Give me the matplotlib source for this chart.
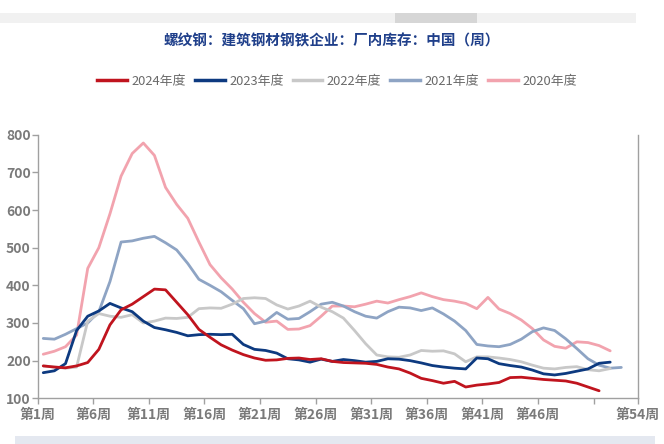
import numpy as np
import matplotlib
matplotlib.use("Agg")
import matplotlib.pyplot as plt
from matplotlib.patches import Rectangle
from matplotlib.lines import Line2D

# ----------------------------
# Data: weekly rebar inventory (10k t)
# ----------------------------
years = ["2024年度", "2023年度", "2022年度", "2021年度", "2020年度"]
colors = ["#c0141e", "#0d3a80", "#c8c8c8", "#8ea4c4", "#f2a3ae"]

y2024 = [186, 183, 181, 186, 195, 230, 295, 335, 350, 370,
         390, 388, 355, 322, 283, 262, 242, 228, 216, 207,
         201, 202, 206, 207, 203, 205, 198, 195, 194, 193,
         190, 183, 178, 167, 153, 147, 140, 145, 130, 135,
         138, 142, 155, 156, 153, 150, 148, 146, 140, 130,
         120]
y2023 = [168, 173, 192, 280, 318, 332, 352, 340, 330, 305,
         288, 282, 275, 266, 269, 270, 269, 270, 243, 230,
         227, 220, 205, 202, 196, 204, 198, 203, 200, 196,
         198, 205, 204, 200, 194, 187, 183, 180, 178, 207,
         205, 192, 187, 183, 175, 165, 162, 166, 172, 178,
         193, 196]
y2022 = [186, 183, 180, 183, 305, 325, 318, 315, 322, 300,
         305, 313, 312, 315, 338, 340, 339, 350, 365, 367,
         365, 348, 337, 345, 358, 342, 330, 313, 280, 245,
         215, 210, 209, 215, 227, 225, 226, 218, 197, 210,
         210, 207, 203, 197, 188, 180, 178, 182, 184, 176,
         173, 179]
y2021 = [259, 257, 270, 285, 300, 330, 410, 515, 518, 525,
         530, 513, 494, 458, 416, 400, 383, 360, 338, 298,
         305, 328, 310, 312, 330, 350, 355, 345, 330, 318,
         313, 330, 342, 340, 333, 340, 324, 305, 280, 243,
         239, 237, 243, 257, 277, 287, 280, 258, 232, 205,
         188, 180, 182]
y2020 = [217, 225, 237, 268, 445, 500, 590, 690, 750, 778,
         745, 660, 615, 578, 515, 455, 420, 390, 355, 325,
         302, 305, 283, 284, 293, 318, 345, 345, 343, 350,
         358, 353, 362, 370, 380, 370, 362, 358, 352, 338,
         368, 337, 325, 308, 285, 255, 238, 233, 250, 248,
         240, 226]
series = [y2024, y2023, y2022, y2021, y2020]

tick_pos = [0, 5, 10, 15, 20, 25, 30, 35, 40, 45, 50, 54]
tick_labels = ["第1周", "第6周", "第11周", "第16周", "第21周", "第26周",
               "第31周", "第36周", "第41周", "第46周", "", "第54周"]

plt.rcParams["font.family"] = ["Noto Sans CJK SC", "DejaVu Sans"]

W, H = 664, 444
fig = plt.figure(figsize=(W / 100, H / 100), dpi=100)
fig.patch.set_facecolor("white")

# cropped UI strip on top and bottom band
fig.patches.append(Rectangle((0, 1 - 23 / H), 636 / W, 10 / H, transform=fig.transFigure,
                             facecolor="#f1f1f1", edgecolor="none"))
fig.patches.append(Rectangle((395 / W, 1 - 23 / H), 82 / W, 10 / H, transform=fig.transFigure,
                             facecolor="#d6d6d6", edgecolor="none"))
fig.patches.append(Rectangle((15 / W, 0), 640 / W, 8 / H, transform=fig.transFigure,
                             facecolor="#e4e8f0", edgecolor="none"))

ax = fig.add_axes([37.7 / W, 1 - 398.3 / H, (638 - 37.7) / W, (398.3 - 134.7) / H])

# draw oldest first so 2024 sits on top
for name, vals, c in reversed(list(zip(years, series, colors))):
    x = np.arange(len(vals)) + 0.5
    ax.plot(x, vals, color=c, lw=2.0, solid_joinstyle="round", solid_capstyle="round")

ax.set_xlim(0, 54)
ax.set_ylim(100, 800)
ax.set_yticks(range(100, 801, 100))
ax.set_xticks(tick_pos)
ax.set_xticklabels(tick_labels)

for s in ["left", "bottom", "right"]:
    ax.spines[s].set_color("#a0a0a0")
    ax.spines[s].set_linewidth(1.0)
ax.spines["top"].set_visible(False)
ax.tick_params(axis="both", colors="#a0a0a0", length=4, width=1.0, labelcolor="#7a7a7a",
               labelsize=10)
for lab in ax.get_xticklabels() + ax.get_yticklabels():
    lab.set_fontweight("bold")
ax.tick_params(axis="y", pad=1)
ax.tick_params(axis="x", pad=3)

fig.text(0.5, 1 - 40 / H, "螺纹钢：建筑钢材钢铁企业：厂内库存：中国（周）",
         ha="center", va="center", color="#1f3f8a", fontsize=10.5, fontweight="bold")

handles = [Line2D([], [], color=c, lw=2.5) for c in colors]
leg = fig.legend(handles, years, loc="center", bbox_to_anchor=(337 / W, 1 - 81 / H),
                 ncol=5, frameon=False, fontsize=9.3, handlelength=2.3, handletextpad=0.35,
                 columnspacing=0.7)
for t in leg.get_texts():
    t.set_color("#6a6a6a")

fig.savefig("out.png", dpi=100, facecolor="white")
